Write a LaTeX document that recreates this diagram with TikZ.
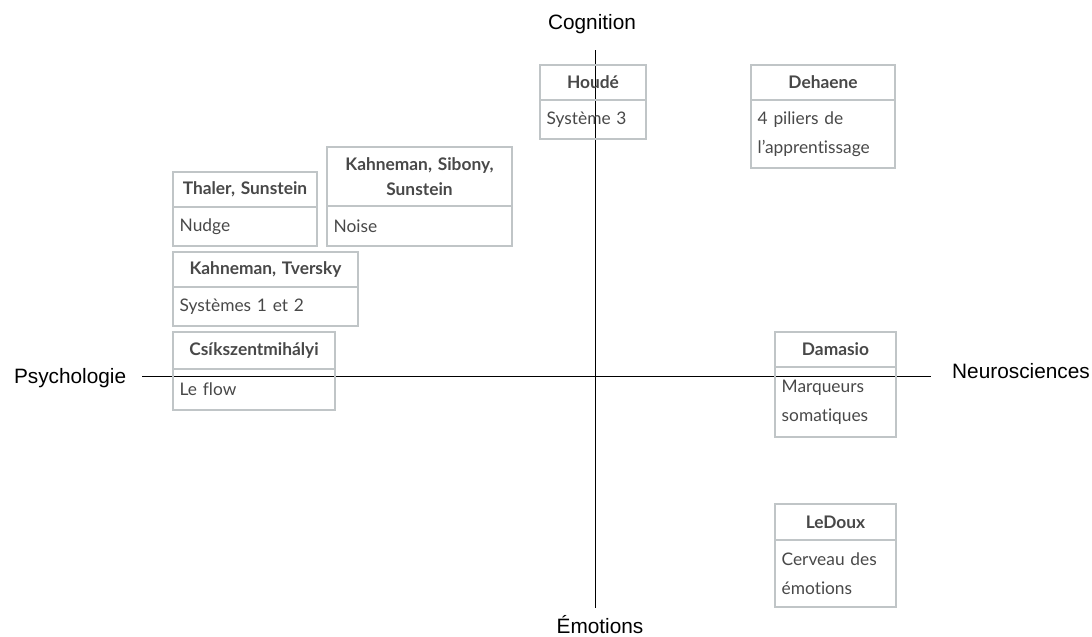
\documentclass[tikz,border=0pt]{standalone}
\usepackage{fontspec}
\setmainfont{Lato}[Ligatures=NoCommon]
\newfontfamily\axisfont{Liberation Sans}
\usetikzlibrary{positioning}
\definecolor{boxgray}{RGB}{192,197,199}
\definecolor{textgray}{RGB}{72,72,72}
\tikzset{every picture/.style={line width=0.75pt}}
\tikzset{
  head/.style={draw=boxgray, line width=1.5pt, text=textgray, outer sep=0pt, inner sep=0pt,
    font=\bfseries\fontsize{13}{19}\selectfont, align=center, anchor=north west},
  body/.style={draw=boxgray, line width=1.5pt, text=textgray, outer sep=0pt, inner xsep=5pt, inner ysep=0pt,
    font=\fontsize{13}{22}\selectfont, align=left},
  axislabel/.style={font=\axisfont\fontsize{15.6}{18}\selectfont, inner sep=0pt}
}

\begin{document}
\begin{tikzpicture}[x=0.75pt,y=0.75pt,yscale=-1,xscale=1]
\useasboundingbox (0,0) rectangle (1092,636);

%Axes
\coordinate (ytop) at (595,50);
\coordinate (ybot) at (595,608);
\coordinate (xleft) at (142,376);
\coordinate (xright) at (931,376);
\draw (ytop) -- (ybot);
\draw (xleft) -- (xright);

% Axis labels
\node [axislabel, anchor=base] (cognition) at (592,29) {Cognition};
\node [axislabel, anchor=base] (emotions) at (600,633) {Émotions};
\node [axislabel, anchor=base east] (psycho) at (126.7,383) {Psychologie};
\node [axislabel, anchor=base west] (neuro) at (951.7,378) {Neurosciences};

%Box: Houdé
\node [head, text width=79.5pt, minimum height=26.25pt] (houde) at (540,65) {Houdé};
\node [body, text width=69.5pt, minimum height=29.25pt, below=0pt of houde] (houdeb) {Système 3};

%Box: Dehaene
\node [head, text width=108pt, minimum height=26.25pt] (dehaene) at (751,65) {Dehaene};
\node [body, text width=98pt, minimum height=51pt, below=0pt of dehaene] (dehaeneb) {4 piliers de\\l’apprentissage};

%Box: Thaler, Sunstein
\node [head, text width=108pt, minimum height=26.25pt] (thaler) at (173,172) {Thaler, Sunstein};
\node [body, text width=98pt, minimum height=29.25pt, below=0pt of thaler] (thalerb) {Nudge};

%Box: Kahneman, Sibony, Sunstein
\node [head, text width=138.75pt, minimum height=44.25pt] (kss) at (327,147) {Kahneman, Sibony,\\Sunstein};
\node [body, text width=128.75pt, minimum height=30pt, below=0pt of kss] (kssb) {Noise};

%Box: Kahneman, Tversky
\node [head, text width=138.75pt, minimum height=26.25pt] (kt) at (173,252) {Kahneman, Tversky};
\node [body, text width=128.75pt, minimum height=29.25pt, below=0pt of kt] (ktb) {Systèmes 1 et 2};

%Box: Csíkszentmihályi
\node [head, text width=121.5pt, minimum height=27.75pt] (csik) at (173,332) {Csíkszentmihályi};
\node [body, text width=111.5pt, minimum height=30.75pt, below=0pt of csik] (csikb) {Le flow};

%Box: Damasio
\node [head, text width=90.75pt, minimum height=26.25pt] (damasio) at (775,332) {Damasio};
\node [body, text width=80.75pt, minimum height=52.5pt, below=0pt of damasio] (damasiob) {Marqueurs\\somatiques};

%Box: LeDoux
\node [head, text width=90.75pt, minimum height=27pt] (ledoux) at (775,504) {LeDoux};
\node [body, text width=80.75pt, minimum height=50.25pt, below=0pt of ledoux] (ledouxb) {Cerveau des\\émotions};

\end{tikzpicture}
\end{document}
